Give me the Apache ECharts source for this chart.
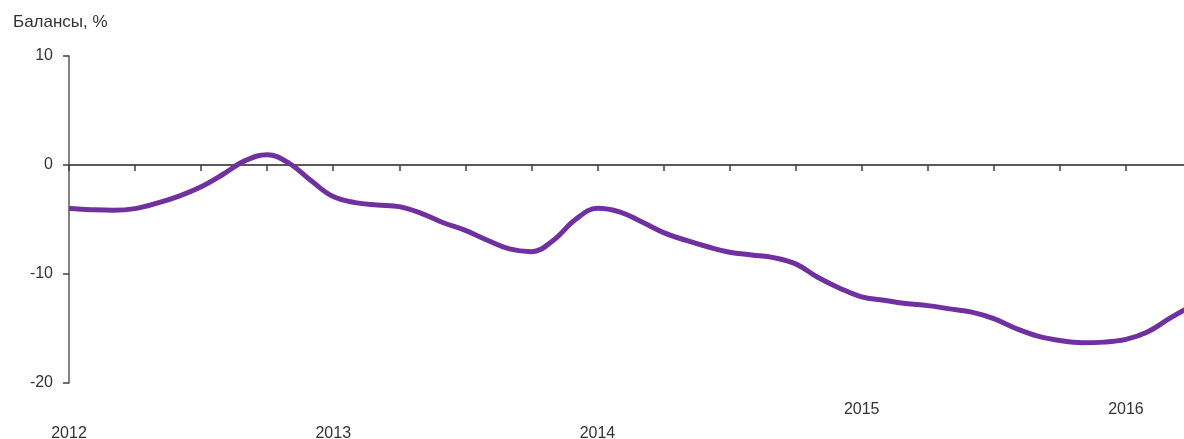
<!DOCTYPE html>
<html>
<head>
<meta charset="utf-8">
<script src="https://cdn.jsdelivr.net/npm/echarts@6/dist/echarts.min.js"></script>
<style>html,body{margin:0;padding:0;background:#fff;}#c{width:1184px;height:439px;}</style>
</head>
<body>
<div id="c"></div>
<script>
// Monthly periods, Jan 2012 .. Apr 2016
const months = [];
for (let y = 2012; y <= 2016; y++) {
  for (let m = 1; m <= 12; m++) {
    if (y === 2016 && m > 4) break;
    months.push(y + '-' + (m < 10 ? '0' + m : m));
  }
}
const balances = [
  -4.0, -4.1, -4.15, -4.0, -3.5, -2.85, -2.0, -0.85, 0.4, 0.95, 0.15, -1.45,
  -2.9, -3.45, -3.67, -3.82, -4.43, -5.3, -6.0, -6.9, -7.7, -7.95, -6.9, -5.0,
  -3.97, -4.3, -5.2, -6.2, -6.9, -7.5, -8.0, -8.25, -8.5, -9.07, -10.3, -11.3,
  -12.1, -12.4, -12.7, -12.9, -13.2, -13.5, -14.1, -15.0, -15.7, -16.1, -16.3, -16.25,
  -16.0, -15.3, -14.05, -12.9
];
const yTicks = [-20, -10, 0, 10];
const titleText = 'Балансы, %';

const font = "'Liberation Sans', 'DejaVu Sans', sans-serif";
const chart = echarts.init(document.getElementById('c'));
chart.setOption({
  animation: false,
  title: {
    text: titleText, left: 8, top: 9,
    textStyle: { fontFamily: font, fontSize: 17, fontWeight: 'normal', color: '#333' }
  },
  grid: { left: 69, right: -8, top: 56, bottom: 56, containLabel: false, outerBoundsMode: 'none' },
  xAxis: [
    {
      type: 'category', data: months, boundaryGap: false, position: 'bottom',
      axisLine: { show: true, onZero: true, lineStyle: { color: '#595959', width: 2 } },
      axisTick: { show: true, interval: (i) => i % 3 === 0, length: 6, lineStyle: { color: '#404040', width: 1.5 } },
      axisLabel: { show: false }, splitLine: { show: false }
    },
    {
      type: 'category', data: months, boundaryGap: false, position: 'bottom',
      axisLine: { show: false, onZero: false }, axisTick: { show: false }, splitLine: { show: false },
      axisLabel: {
        interval: (i) => i % 12 === 0,
        margin: 19,
        formatter: (v) => {
          const y = v.slice(0, 4);
          return (+y >= 2015 ? '{hi|' : '{lo|') + y + '}';
        },
        rich: {
          hi: { fontFamily: font, fontSize: 16, color: '#333', padding: [0, 0, 0, 0] },
          lo: { fontFamily: font, fontSize: 16, color: '#333', padding: [24, 0, 0, 0] }
        }
      }
    }
  ],
  yAxis: {
    type: 'value', min: -20, max: 10, interval: 10,
    axisLine: { show: true, onZero: false, lineStyle: { color: '#595959', width: 1.5 } },
    axisTick: { show: true, length: 6, lineStyle: { color: '#404040', width: 1.5 } },
    splitLine: { show: false },
    axisLabel: {
      margin: 16, fontFamily: font, fontSize: 16, color: '#333',
      formatter: (v) => (yTicks.indexOf(v) >= 0 ? String(v) : '')
    }
  },
  series: [{
    type: 'line', data: balances, xAxisIndex: 0, smooth: 0.4, symbol: 'none',
    lineStyle: { color: '#7030A0', width: 5 }, clip: true
  }]
});
</script>
</body>
</html>
